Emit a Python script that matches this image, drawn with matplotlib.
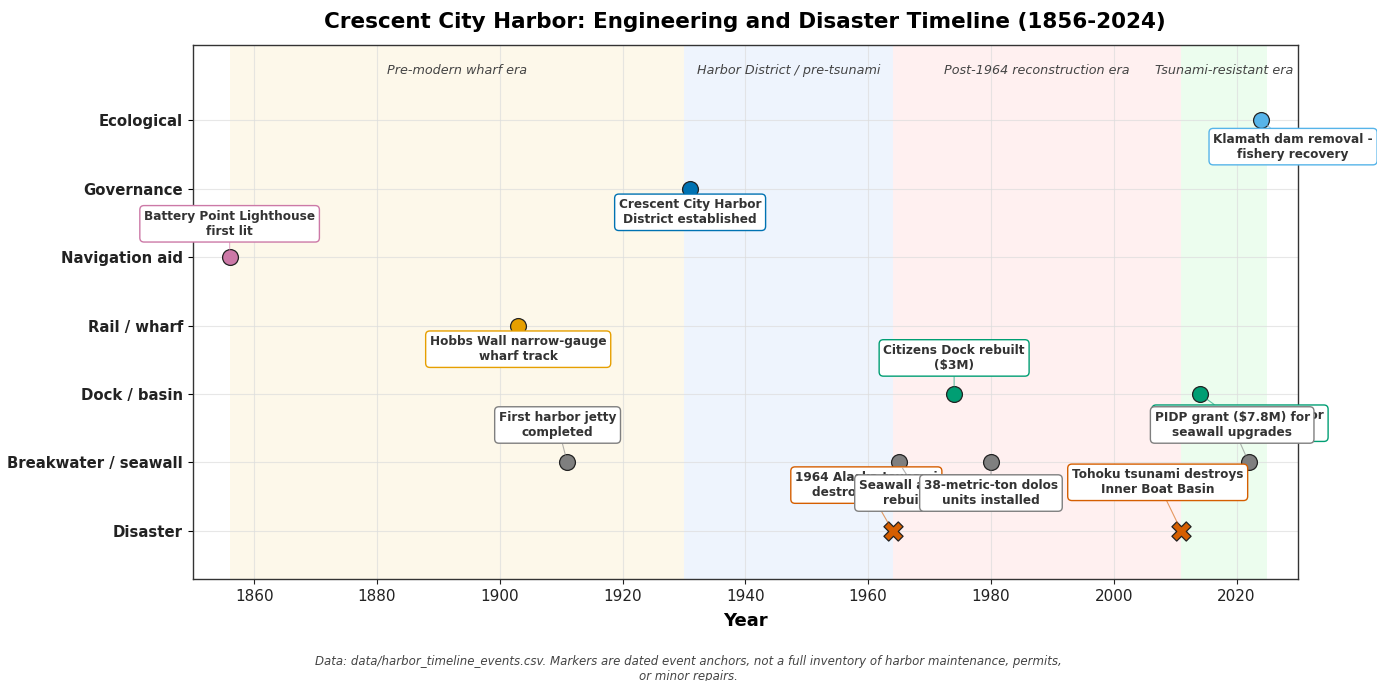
import matplotlib.pyplot as plt

# categories, bottom to top
categories = ["Disaster", "Breakwater / seawall", "Dock / basin", "Rail / wharf",
              "Navigation aid", "Governance", "Ecological"]

# events (chronological)
ev_year = [1856, 1903, 1911, 1931, 1964, 1965, 1974, 1980, 2011, 2014, 2022, 2024]
ev_cat = ["Navigation aid", "Rail / wharf", "Breakwater / seawall", "Governance",
          "Disaster", "Breakwater / seawall", "Dock / basin", "Breakwater / seawall",
          "Disaster", "Dock / basin", "Breakwater / seawall", "Ecological"]
ev_label = ["Battery Point Lighthouse\nfirst lit",
            "Hobbs Wall narrow-gauge\nwharf track",
            "First harbor jetty\ncompleted",
            "Crescent City Harbor\nDistrict established",
            "1964 Alaska tsunami\ndestroys harbor",
            "Seawall and jetty\nrebuilding",
            "Citizens Dock rebuilt\n($3M)",
            "38-metric-ton dolos\nunits installed",
            "Tohoku tsunami destroys\nInner Boat Basin",
            "Tsunami-resilient harbor\nBoat Basin ($54M)",
            "PIDP grant ($7.8M) for\nseawall upgrades",
            "Klamath dam removal -\nfishery recovery"]

# eras
era_names = ["Pre-modern wharf era", "Harbor District / pre-tsunami",
             "Post-1964 reconstruction era", "Tsunami-resistant era"]
era_start = [1856, 1930, 1964, 2011]
era_end = [1930, 1964, 2011, 2025]
era_colors = ["#fdf8ea", "#eef4fd", "#fff0f0", "#ecfdee"]

cat_colors = {"Disaster": "#d55e00", "Breakwater / seawall": "#7f7f7f",
              "Dock / basin": "#009e73", "Rail / wharf": "#e69f00",
              "Navigation aid": "#cc79a7", "Governance": "#0072b2",
              "Ecological": "#56b4e9"}

# label offsets in points (dx, dy), chosen to keep boxes apart
offsets = [(0, 24), (0, -17), (-7, 27), (0, -17), (-19, 33), (14, -22),
           (0, 26), (0, -22), (-17, 35), (29, -21), (-12, 27), (23, -19)]

fig = plt.figure(figsize=(13.77, 6.81), dpi=100)
ax = fig.add_axes([0.140, 0.150, 0.8026, 0.784])

for s, e, c in zip(era_start, era_end, era_colors):
    ax.axvspan(s, e, color=c, zorder=0, lw=0)
for name, s, e in zip(era_names, era_start, era_end):
    ax.text((s + e) / 2, 6.73, name, ha="center", va="center", fontsize=9.2,
            style="italic", color="#444444", zorder=2)

ax.grid(True, color="#dddddd", lw=0.8, alpha=0.7, zorder=1)
ax.set_axisbelow(True)

ypos = {c: i for i, c in enumerate(categories)}
for yr, cat, lab, (dx, dy) in zip(ev_year, ev_cat, ev_label, offsets):
    col = cat_colors[cat]
    y = ypos[cat]
    if cat == "Disaster":
        ax.scatter(yr, y, s=190, marker="X", color=col, edgecolor="#222222",
                   linewidth=0.9, zorder=5)
    else:
        ax.scatter(yr, y, s=130, marker="o", color=col, edgecolor="#222222",
                   linewidth=0.9, zorder=5)
    ax.annotate(lab, xy=(yr, y), xytext=(dx, dy), textcoords="offset points",
                ha="center", va="center", fontsize=8.7, fontweight="bold",
                color="#333333", zorder=6,
                bbox=dict(boxstyle="round,pad=0.35", fc="white", ec=col, lw=1.0),
                arrowprops=dict(arrowstyle="-", color=col, lw=0.8, alpha=0.6,
                                shrinkA=0, shrinkB=5))

ax.set_xlim(1850, 2030)
ax.set_ylim(-0.7, 7.1)
ax.set_yticks(range(len(categories)))
ax.set_yticklabels(categories, fontsize=10.7, fontweight="bold", color="#222222")
ax.set_xticks(range(1860, 2021, 20))
ax.tick_params(axis="x", labelsize=11, colors="#222222")
ax.set_xlabel("Year", fontsize=13, fontweight="bold", labelpad=6)
for sp in ax.spines.values():
    sp.set_color("#333333")
    sp.set_linewidth(1.0)

ax.set_title("Crescent City Harbor: Engineering and Disaster Timeline (1856-2024)",
             fontsize=15.5, fontweight="bold", pad=12)
fig.text(0.5, 0.018, "Data: data/harbor_timeline_events.csv. Markers are dated event anchors, "
         "not a full inventory of harbor maintenance, permits,\nor minor repairs.",
         ha="center", va="center", fontsize=8.5, style="italic", color="#444444")

fig.savefig("out.png", dpi=100)
